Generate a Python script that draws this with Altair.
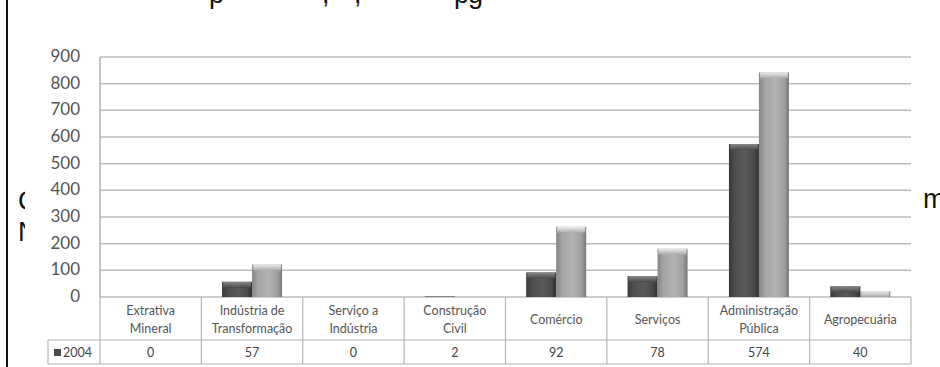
import altair as alt
import pandas as pd

# ---- data ----
categories = ["Extrativa\nMineral", "Indústria de\nTransformação", "Serviço a\nIndústria",
              "Construção\nCivil", "Comércio", "Serviços", "Administração\nPública", "Agropecuária"]
series_names = ["2004", "2010"]
values_2004 = [0, 57, 0, 2, 92, 78, 574, 40]
values_other = [0, 122, 0, 0, 263, 181, 842, 22]
y_ticks = [0, 100, 200, 300, 400, 500, 600, 700, 800, 900]

W, H = 811, 240
FONT = "Lato"

df = pd.DataFrame({"cat": categories, "v": values_2004, "w": values_other})
tick_df = pd.DataFrame({"g": y_ticks})
one = pd.DataFrame({"a": [0]})

xscale = alt.Scale(domain=categories, paddingInner=0, paddingOuter=0)
x_enc = alt.X("cat:N", sort=categories, scale=xscale, axis=None)
yscale = alt.Scale(domain=[0, 900], nice=False)


def grad(stops, vertical=False):
    return {"gradient": "linear", "x1": 0, "y1": 0,
            "x2": 0 if vertical else 1, "y2": 1 if vertical else 0,
            "stops": [{"offset": o, "color": c} for o, c in stops]}


dark = grad([(0, "#383838"), (0.2, "#4e4e4e"), (0.55, "#5a5a5a"), (0.85, "#484848"), (1, "#2e2e2e")])
light = grad([(0, "#858585"), (0.2, "#a4a4a4"), (0.55, "#b4b4b4"), (0.85, "#9e9e9e"), (1, "#777777")])
dark_cap = grad([(0, "#8a8a8a"), (1, "#4a4a4a")], vertical=True)
light_cap = grad([(0, "#ececec"), (1, "#a8a8a8")], vertical=True)

# background document text (partly hidden behind the chart picture)
bg_text = alt.Chart(pd.DataFrame({"t": ["C", "N", "m"], "px": [-82, -82, 823], "py": [153, 184, 151]})).mark_text(
    font="Liberation Sans", fontSize=27, align="left", baseline="alphabetic", color="#111"
).encode(x=alt.X("px:Q", scale=None, axis=None), y=alt.Y("py:Q", scale=None, axis=None), text="t:N")

top_text = alt.Chart(pd.DataFrame({"t": ["p", ",", ",", "p", "g"], "px": [109, 222, 254, 354, 368]})).mark_text(
    font="Liberation Sans", fontSize=27, align="left", baseline="alphabetic", color="#111"
).encode(x=alt.X("px:Q", scale=None, axis=None), y=alt.value(-54), text="t:N")

frame = alt.Chart(one).mark_rule(color="#111", strokeWidth=2).encode(
    x=alt.value(-93), y=alt.value(-57), y2=alt.value(310))

white = alt.Chart(one).mark_rect(color="white").encode(
    x=alt.value(-75), x2=alt.value(818), y=alt.value(-38), y2=alt.value(310))

grid = alt.Chart(tick_df).mark_rule(color="#bcbcbc", strokeWidth=1.5).encode(
    x=alt.value(0), x2=alt.value(W), y=alt.Y("g:Q", scale=yscale, axis=None))

tick_labels = alt.Chart(tick_df).mark_text(
    font=FONT, fontSize=17, color="#555", align="right", baseline="middle").encode(
    x=alt.value(-20), y=alt.Y("g:Q", scale=yscale, axis=None), text="g:Q")

y_domain = alt.Chart(one).mark_rule(color="#b0b0b0", strokeWidth=1.5).encode(
    x=alt.value(0), y=alt.value(0), y2=alt.value(H))

bars_dark = alt.Chart(df).mark_bar(width=30, xOffset=-15, color=dark).encode(
    x=x_enc, y=alt.Y("v:Q", scale=yscale, axis=None), y2=alt.value(H))
bars_light = alt.Chart(df).mark_bar(width=30, xOffset=15, color=light).encode(
    x=x_enc, y=alt.Y("w:Q", scale=yscale, axis=None), y2=alt.value(H))

caps_dark = alt.Chart(df).transform_calculate(c2="max(datum.v - 22, 0)").mark_bar(
    width=28, xOffset=-15, color=dark_cap).encode(
    x=x_enc, y=alt.Y("v:Q", scale=yscale, axis=None), y2="c2:Q")
caps_light = alt.Chart(df).transform_calculate(c2="max(datum.w - 22, 0)").mark_bar(
    width=28, xOffset=15, color=light_cap).encode(
    x=x_enc, y=alt.Y("w:Q", scale=yscale, axis=None), y2="c2:Q")

# ---- data table below ----
tcol = "#b4b4b4"
col_lines = alt.Chart(df).mark_rule(color=tcol, strokeWidth=1.2).encode(
    x=alt.X("cat:N", sort=categories, scale=xscale, axis=None, bandPosition=0),
    y=alt.value(H), y2=alt.value(307))
right_line = alt.Chart(one).mark_rule(color=tcol, strokeWidth=1.2).encode(
    x=alt.value(W), y=alt.value(H), y2=alt.value(307))
row_lines = alt.Chart(pd.DataFrame({"ry": [283, 307]})).mark_rule(color=tcol, strokeWidth=1.2).encode(
    x=alt.value(-52), x2=alt.value(W), y=alt.Y("ry:Q", scale=None, axis=None))
label_left = alt.Chart(one).mark_rule(color=tcol, strokeWidth=1.2).encode(
    x=alt.value(-52), y=alt.value(283), y2=alt.value(307))

header = alt.Chart(df).transform_calculate(
    ny="indexof(datum.cat, '\\n') >= 0 ? 254 : 263"
).mark_text(font=FONT, fontSize=12.5, color="#555", lineBreak="\n",
            baseline="middle", lineHeight=18).encode(
    x=x_enc, y=alt.Y("ny:Q", scale=None, axis=None), text="cat:N")
values_row = alt.Chart(df).mark_text(font=FONT, fontSize=12.5, color="#444", baseline="middle").encode(
    x=x_enc, y=alt.value(296), text="v:Q")

legend_sq = alt.Chart(one).mark_rect(color="#4a4a4a").encode(
    x=alt.value(-46), x2=alt.value(-39), y=alt.value(292), y2=alt.value(299))
legend_txt = alt.Chart(pd.DataFrame({"s": [series_names[0]]})).mark_text(
    font=FONT, fontSize=12.5, color="#444", align="left", baseline="middle").encode(
    x=alt.value(-37), y=alt.value(296), text="s:N")

chart = alt.layer(
    bg_text, top_text, frame, white, grid, tick_labels, y_domain,
    bars_dark, bars_light, caps_dark, caps_light,
    col_lines, right_line, row_lines, label_left, header, values_row, legend_sq, legend_txt
).properties(
    width=W, height=H,
    autosize=alt.AutoSizeParams(type="none"),
    padding={"left": 100, "top": 57, "right": 29, "bottom": 70},
    background="white",
).configure_view(stroke=None)

chart.save("out.html", embed_options={"renderer": "svg", "actions": False})
